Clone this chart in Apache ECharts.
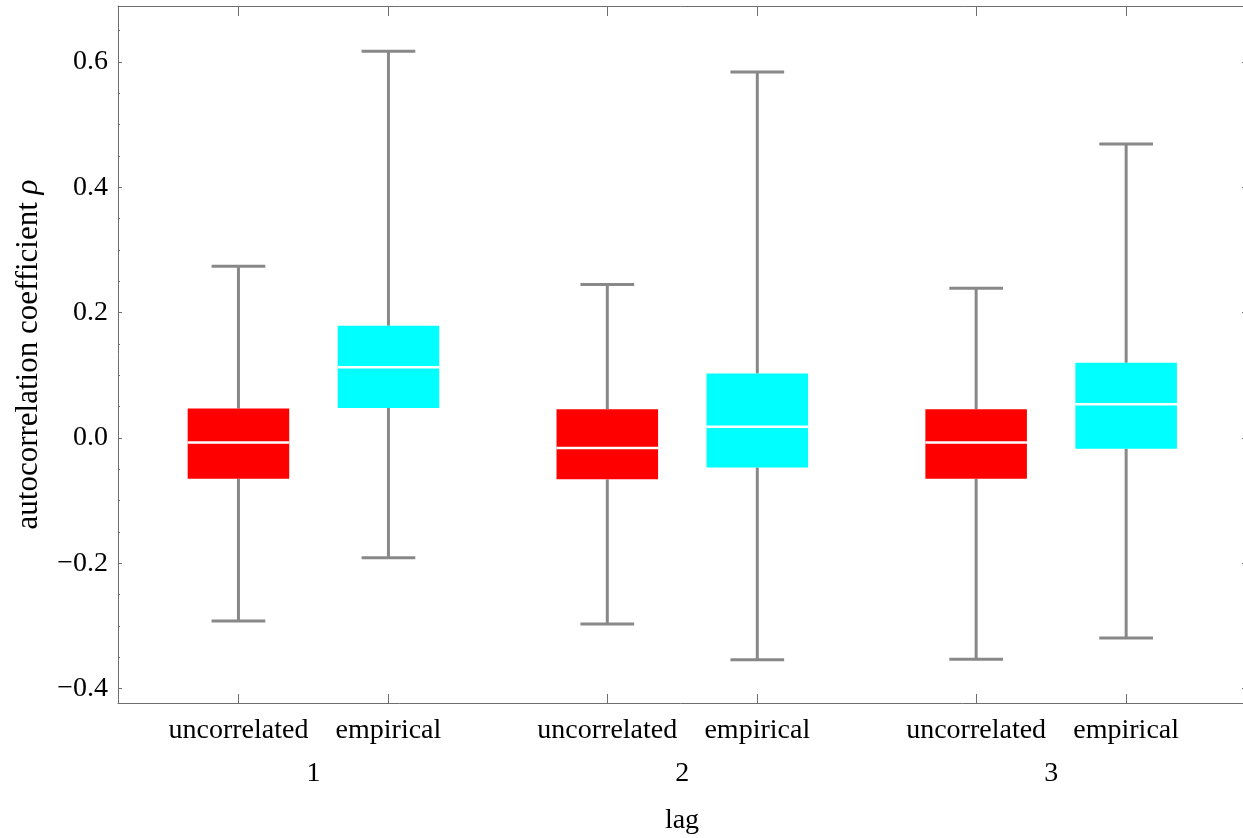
<!DOCTYPE html>
<html>
<head>
<meta charset="utf-8">
<title>Autocorrelation by lag</title>
<script src="https://cdn.jsdelivr.net/npm/echarts@6/dist/echarts.min.js"></script>
<style>
  html, body { margin: 0; padding: 0; background: #ffffff; }
  #chart { width: 1243px; height: 838px; }
</style>
</head>
<body>
<div id="chart"></div>
<script>
// Lags along the bottom, and the two samples compared at each lag
const groups = ['1', '2', '3'];
const members = ['uncorrelated', 'empirical'];

// Five-number summaries per sample, one entry per lag
const uncorrLow    = [-0.292, -0.297, -0.353];
const uncorrQ1     = [-0.065, -0.066, -0.065];
const uncorrMedian = [-0.007, -0.016, -0.007];
const uncorrQ3     = [0.047, 0.046, 0.046];
const uncorrHigh   = [0.274, 0.245, 0.239];

const empLow    = [-0.191, -0.354, -0.319];
const empQ1     = [0.048, -0.047, -0.017];
const empMedian = [0.113, 0.018, 0.054];
const empQ3     = [0.179, 0.103, 0.120];
const empHigh   = [0.617, 0.584, 0.469];

// Y-axis tick labels
const yMajorTicks = [-0.4, -0.2, 0.0, 0.2, 0.4, 0.6];
const yMinorTicks = [-0.35, -0.3, -0.25, -0.15, -0.1, -0.05, 0.05, 0.1, 0.15, 0.25, 0.3, 0.35, 0.45, 0.5, 0.55, 0.65];

// Layout along the x axis (in axis units)
const memberStep = 1;
const groupStep = 2.459;
const boxWidth = 0.677;
const capWidth = 0.358;

const boxPos = [];
const boxLabels = [];
groups.forEach(function (g, gi) {
  members.forEach(function (m, mi) {
    boxPos.push(gi * groupStep + mi * memberStep);
    boxLabels.push(m);
  });
});
const groupPos = groups.map(function (g, gi) { return gi * groupStep + memberStep / 2; });

function buildData(mi, low, q1, med, q3, high) {
  return groups.map(function (g, gi) {
    return [gi * groupStep + mi * memberStep, low[gi], q1[gi], med[gi], q3[gi], high[gi]];
  });
}

function renderBox(params, api) {
  const x = api.value(0);
  const low = api.coord([x, api.value(1)]);
  const q1 = api.coord([x, api.value(2)]);
  const med = api.coord([x, api.value(3)]);
  const q3 = api.coord([x, api.value(4)]);
  const high = api.coord([x, api.value(5)]);
  const bw = api.size([boxWidth, 0])[0];
  const cw = api.size([capWidth, 0])[0];
  const cx = low[0];
  const whisker = { stroke: '#888888', lineWidth: 3 };
  return {
    type: 'group',
    children: [
      { type: 'line', shape: { x1: cx, y1: high[1], x2: cx, y2: q3[1] }, style: whisker },
      { type: 'line', shape: { x1: cx, y1: q1[1], x2: cx, y2: low[1] }, style: whisker },
      { type: 'line', shape: { x1: cx - cw / 2, y1: high[1], x2: cx + cw / 2, y2: high[1] }, style: whisker },
      { type: 'line', shape: { x1: cx - cw / 2, y1: low[1], x2: cx + cw / 2, y2: low[1] }, style: whisker },
      { type: 'rect', shape: { x: cx - bw / 2, y: q3[1], width: bw, height: q1[1] - q3[1] },
        style: { fill: api.visual('color') } },
      { type: 'line', shape: { x1: cx - bw / 2, y1: med[1], x2: cx + bw / 2, y2: med[1] },
        style: { stroke: '#ffffff', lineWidth: 2.5 } }
    ]
  };
}

const serif = 'Liberation Serif, Times New Roman, serif';
const frameColor = '#6e6e6e';
const xMin = -0.803, xMax = 6.717;
const yMin = -0.4229, yMax = 0.6894;
const labelSize = 28;
const titleSize = 31;

const chart = echarts.init(document.getElementById('chart'), null, { renderer: 'canvas' });
chart.setOption({
  animation: false,
  backgroundColor: '#ffffff',
  grid: { left: 118, right: -3, top: 6, bottom: 135, containLabel: false, outerBoundsMode: 'none' },
  xAxis: [
    {
      type: 'value', position: 'bottom', min: xMin, max: xMax,
      axisLine: { show: true, onZero: false, lineStyle: { color: frameColor, width: 1 } },
      axisTick: { show: true, inside: true, length: 9, customValues: boxPos, lineStyle: { color: frameColor } },
      axisLabel: {
        show: true, customValues: boxPos, margin: 14,
        fontFamily: serif, fontSize: labelSize, color: '#000',
        formatter: function (v) {
          const i = boxPos.findIndex(function (p) { return Math.abs(p - v) < 1e-6; });
          return i >= 0 ? boxLabels[i] : '';
        }
      },
      splitLine: { show: false },
      name: 'lag', nameLocation: 'middle', nameGap: 104,
      nameTextStyle: { fontFamily: serif, fontSize: labelSize, color: '#000' }
    },
    {
      type: 'value', position: 'bottom', min: xMin, max: xMax,
      axisLine: { show: false, onZero: false }, axisTick: { show: false }, splitLine: { show: false },
      axisLabel: {
        show: true, customValues: groupPos, margin: 57,
        fontFamily: serif, fontSize: labelSize, color: '#000',
        formatter: function (v) {
          const i = groupPos.findIndex(function (p) { return Math.abs(p - v) < 1e-6; });
          return i >= 0 ? groups[i] : '';
        }
      }
    },
    {
      type: 'value', position: 'top', min: xMin, max: xMax,
      axisLine: { show: true, onZero: false, lineStyle: { color: frameColor, width: 1 } },
      axisTick: { show: true, inside: true, length: 10, customValues: boxPos, lineStyle: { color: frameColor } },
      axisLabel: { show: false }, splitLine: { show: false }
    }
  ],
  yAxis: [
    {
      type: 'value', position: 'left', min: yMin, max: yMax,
      axisLine: { show: true, onZero: false, lineStyle: { color: frameColor, width: 1 } },
      axisTick: { show: true, inside: true, length: 4, customValues: yMajorTicks, lineStyle: { color: frameColor } },
      axisLabel: {
        show: true, customValues: yMajorTicks, margin: 10,
        fontFamily: serif, fontSize: labelSize, color: '#000',
        formatter: function (v) {
          const s = Math.abs(v).toFixed(1);
          return v < -1e-9 ? '\u2212' + s : s;
        }
      },
      splitLine: { show: false },
      name: '{a|autocorrelation coefficient }{b|ρ}',
      nameLocation: 'middle', nameGap: 74, nameRotate: 90,
      nameTextStyle: {
        fontFamily: serif, fontSize: titleSize, color: '#000',
        rich: {
          a: { fontFamily: serif, fontSize: titleSize, color: '#000' },
          b: { fontFamily: serif, fontSize: titleSize, fontStyle: 'italic', color: '#000' }
        }
      }
    },
    {
      type: 'value', position: 'left', min: yMin, max: yMax,
      axisLine: { show: false, onZero: false },
      axisTick: { show: true, inside: true, length: 2, customValues: yMinorTicks, lineStyle: { color: frameColor } },
      axisLabel: { show: false }, splitLine: { show: false }
    },
    {
      type: 'value', position: 'right', min: yMin, max: yMax,
      axisLine: { show: true, onZero: false, lineStyle: { color: frameColor, width: 1 } },
      axisTick: { show: true, inside: true, length: 4, customValues: yMajorTicks, lineStyle: { color: frameColor } },
      axisLabel: { show: false }, splitLine: { show: false }
    }
  ],
  series: [
    {
      name: members[0], type: 'custom', xAxisIndex: 0, yAxisIndex: 0,
      itemStyle: { color: '#ff0000' },
      encode: { x: 0, y: [1, 2, 3, 4, 5] },
      renderItem: renderBox,
      data: buildData(0, uncorrLow, uncorrQ1, uncorrMedian, uncorrQ3, uncorrHigh)
    },
    {
      name: members[1], type: 'custom', xAxisIndex: 0, yAxisIndex: 0,
      itemStyle: { color: '#00ffff' },
      encode: { x: 0, y: [1, 2, 3, 4, 5] },
      renderItem: renderBox,
      data: buildData(1, empLow, empQ1, empMedian, empQ3, empHigh)
    }
  ]
});
</script>
</body>
</html>
